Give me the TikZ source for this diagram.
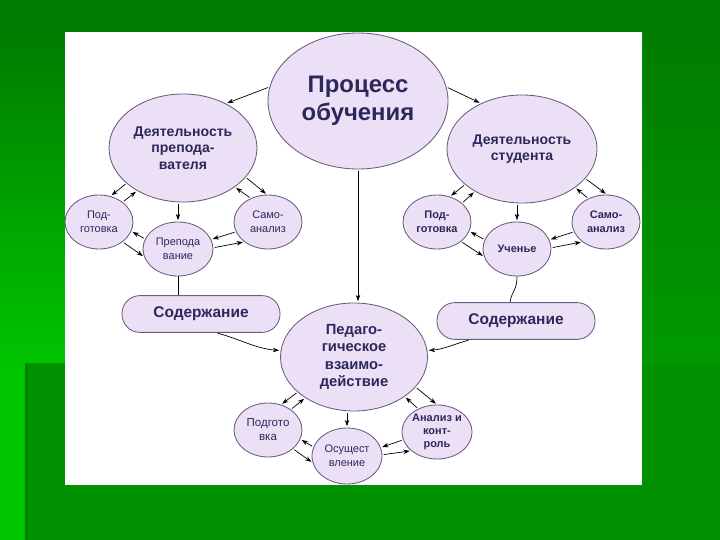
\documentclass[tikz,border=0pt]{standalone}
\usepackage{fontspec}
\setmainfont{Liberation Sans}
\usetikzlibrary{arrows.meta,positioning,shapes.geometric,calc}
\definecolor{bgdark}{RGB}{0,124,0}
\definecolor{bgmid}{RGB}{0,146,0}
\definecolor{bglight}{RGB}{0,196,0}
\definecolor{lilac}{RGB}{236,224,246}
\definecolor{lilacline}{RGB}{104,92,124}
\definecolor{inkblue}{RGB}{44,40,92}

\begin{document}
\begin{tikzpicture}[
  bubble/.style={ellipse,draw=lilacline,fill=lilac,line width=0.6pt,inner sep=0pt,
                 align=center,text=inkblue},
  smallbubble/.style={bubble,minimum width=1.7cm,minimum height=1.35cm,
                 font=\fontsize{7.8}{10}\selectfont},
  pill/.style={draw=lilacline,fill=lilac,line width=0.6pt,rounded corners=0.45cm,
               minimum width=3.95cm,minimum height=0.92cm,text=inkblue,
               font=\bfseries\fontsize{11}{13}\selectfont},
  arr/.style={-{Stealth[length=4.5pt,width=3.2pt]},line width=0.5pt,
              shorten <=1pt,shorten >=1pt},
  link/.style={line width=0.5pt}
]
  %% Background
  \fill[bgmid] (0,0) rectangle (18,13.5);
  \shade[top color=bgdark,bottom color=bglight] (0,4.425) rectangle (1.625,12.7);
  \fill[bglight] (0,0) rectangle (0.625,4.425);
  \fill[bgdark!80!bgmid] (0.625,0) rectangle (0.7,4.425);
  \shade[top color=bgdark,bottom color=bgmid!85!bglight] (16.075,4.425) rectangle (18,12.7);
  \fill[bgdark] (0,12.7) rectangle (18,13.5);
  \fill[white] (1.625,1.375) rectangle (16.05,12.7);

  %% Top ellipse
  \node[bubble,minimum width=4.5cm,minimum height=3.4cm,
        font=\bfseries\fontsize{17}{20}\selectfont]
        (proc) at (8.95,10.975) {Процесс\\обучения};

  %% Teacher side
  \node[bubble,minimum width=3.7cm,minimum height=2.7cm,
        font=\bfseries\fontsize{10}{11.7}\selectfont]
        (dprep) at (4.575,9.8) {Деятельность\\препода-\\вателя};
  \node[smallbubble] (podgL) at (2.475,7.95) {Под-\\готовка};
  \node[smallbubble] (samoL) at (6.7,7.95) {Само-\\анализ};
  \node[smallbubble,minimum width=1.75cm] (prep) at (4.45,7.275) {Препода\\вание};
  \node[pill] (sodL) at (5.025,5.65) {Содержание};

  %% Student side
  \node[bubble,minimum width=3.75cm,minimum height=2.7cm,
        font=\bfseries\fontsize{10}{11.7}\selectfont]
        (dstud) at (13.05,9.775) {Деятельность\\студента};
  \node[smallbubble,font=\bfseries\fontsize{7.8}{10}\selectfont]
        (podgR) at (10.925,7.95) {Под-\\готовка};
  \node[smallbubble,font=\bfseries\fontsize{7.8}{10}\selectfont]
        (samoR) at (15.15,7.95) {Само-\\анализ};
  \node[smallbubble,font=\bfseries\fontsize{7.8}{10}\selectfont]
        (uch) at (12.925,7.275) {Ученье};
  \node[pill] (sodR) at (12.9,5.475) {Содержание};

  %% Interaction
  \node[bubble,minimum width=3.675cm,minimum height=2.7cm,
        font=\bfseries\fontsize{10.5}{12.3}\selectfont]
        (ped) at (8.85,4.575) {Педаго-\\гическое\\взаимо-\\действие};
  \node[smallbubble,font=\fontsize{8.2}{10}\selectfont]
        (podgB) at (6.7,2.75) {Подгото\\вка};
  \node[smallbubble,minimum width=1.75cm,minimum height=1.4cm]
        (osu) at (8.675,2.1) {Осущест\\вление};
  \node[smallbubble,font=\bfseries\fontsize{7.8}{9.3}\selectfont]
        (anal) at (10.925,2.7) {Анализ и\\конт-\\роль};

  %% Main links
  \draw[arr] (proc.171) -- (dprep.46);
  \draw[arr] (proc.9) -- (dstud.132);
  \draw[arr] (proc.south) -- (proc.south |- ped.north);
  \draw[arr] (dprep.south -| prep.north) -- (prep.north);
  \draw[arr] (dstud.south -| uch.north) -- (uch.north);
  \draw[arr] (ped.south -| osu.north) -- (osu.north);
  \draw[link] (prep.south) -- (prep.south |- sodL.north);
  \draw[link] (uch.south) .. controls +(0,-0.35) and +(0.05,0.3) .. ([xshift=-0.15cm]sodR.north);
  \draw[arr] ([xshift=0.38cm]sodL.south) to[out=-15,in=175] (ped.175);
  \draw[arr] ([xshift=-1.15cm]sodR.south) to[out=195,in=5] (ped.5);

  %% Teacher pairs
  \draw[arr] (dprep.212) -- (podgL.66);
  \draw[arr] (podgL.40) -- (dprep.223);
  \draw[arr] (dprep.-25) -- (samoL.92);
  \draw[arr] (samoL.126) -- (dprep.-37);
  \draw[arr] (prep.163) -- (podgL.-16);
  \draw[arr] (podgL.-40) -- (prep.193);
  \draw[arr] (samoL.197) -- (prep.16);
  \draw[arr] (prep.2) -- (samoL.220);

  %% Student pairs
  \draw[arr] (dstud.212) -- (podgR.63);
  \draw[arr] (podgR.37) -- (dstud.222);
  \draw[arr] (dstud.-25) -- (samoR.88);
  \draw[arr] (samoR.127) -- (dstud.-36);
  \draw[arr] (uch.164) -- (podgR.-16);
  \draw[arr] (podgR.-39) -- (uch.193);
  \draw[arr] (samoR.197) -- (uch.16);
  \draw[arr] (uch.2) -- (samoR.220);

  %% Interaction pairs
  \draw[arr] (ped.212) -- (podgB.63);
  \draw[arr] (podgB.42) -- (ped.220);
  \draw[arr] (ped.-26) -- (anal.90);
  \draw[arr] (anal.129) -- (ped.-38);
  \draw[arr] (osu.165) -- (podgB.-16);
  \draw[arr] (podgB.-37) -- (osu.191);
  \draw[arr] (anal.193) -- (osu.14);
  \draw[arr] (osu.2) -- (anal.216);
\end{tikzpicture}
\end{document}
